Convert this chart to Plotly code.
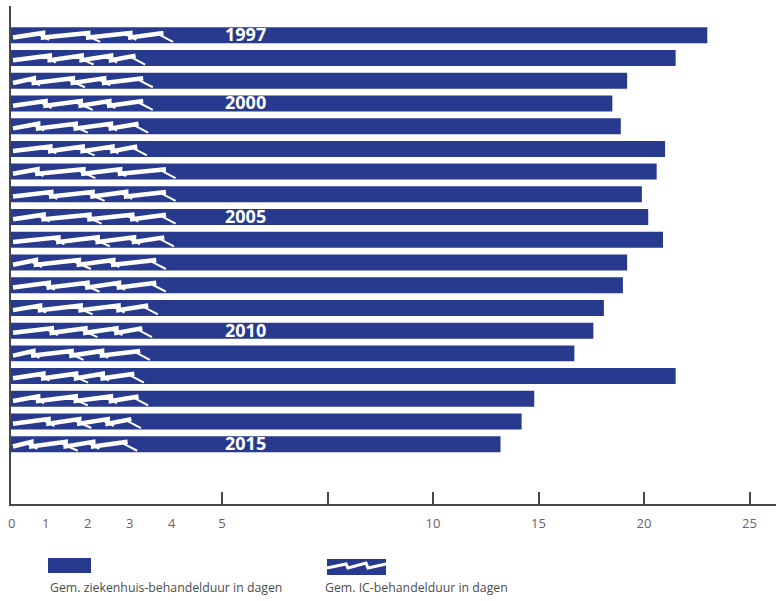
import plotly.graph_objects as go

# ---- data -------------------------------------------------------------
years = list(range(1997, 2016))
ziekenhuis_dagen = [23.0, 21.5, 19.2, 18.5, 18.9, 21.0, 20.6, 19.9, 20.2, 20.9,
                    19.2, 19.0, 18.1, 17.6, 16.7, 21.5, 14.8, 14.2, 13.2]
ic_dagen = [3.84, 3.18, 3.36, 3.36, 3.25, 3.22, 3.90, 3.90, 3.90, 3.86,
            3.67, 3.67, 3.48, 3.34, 3.29, 3.15, 3.25, 3.08, 2.99]
labelled_years = [1997, 2000, 2005, 2010, 2015]
axis_ticks = [5, 7.5, 10, 15, 20, 25]
axis_tick_text = ["5", "", "10", "15", "20", "25"]
ic_ticks = [0, 1, 2, 3, 4]

# ---- styling ----------------------------------------------------------
BLUE = "#283a8e"
AXIS = "#474747"
TICK_FONT = "#6c5e6e"
TEXT = "#4d4d4d"
FONT = "Open Sans"

W, H = 776, 601
M_L, M_R, M_T, M_B = 11, 0, 6, 97
PLOT_W = W - M_L - M_R
PLOT_H = H - M_T - M_B
Y_RANGE = [2017.63, 1995.71]          # reversed: 1997 on top
PX_PER_YEAR = PLOT_H / (Y_RANGE[0] - Y_RANGE[1])


def scale(v):
    """Broken value axis: full scale up to 10 days, half scale beyond."""
    return v if v <= 10 else 10 + (v - 10) / 2.0


X_RANGE = [0, PLOT_W / 42.2]
PX_PER_UNIT = PLOT_W / (X_RANGE[1] - X_RANGE[0])


def paper(xpx, ypx):
    return (xpx - M_L) / PLOT_W, (H - M_B - ypx) / PLOT_H


fig = go.Figure()

# hospital stay: solid blue bars
fig.add_trace(go.Bar(
    y=years, x=[scale(v) for v in ziekenhuis_dagen], orientation="h",
    marker=dict(color=BLUE, line=dict(width=0)),
    width=0.704, showlegend=False, hoverinfo="skip",
))

# IC stay: white jagged brush stroke inside each bar
ramp_sets = [
    [0.0, 0.2, 0.5, 0.78, 1.0],
    [0.0, 0.3, 0.56, 0.8, 1.0],
    [0.0, 0.16, 0.46, 0.7, 1.0],
    [0.0, 0.25, 0.52, 0.74, 1.0],
]
band_x, band_y, spike_x, spike_y = [], [], [], []
lo, hi = 2.2 / PX_PER_YEAR, -2.4 / PX_PER_YEAR
spike_drop = 6.5 / PX_PER_YEAR
spike_len = 12 / PX_PER_UNIT
start = 2 / PX_PER_UNIT
for i, (yr, v) in enumerate(zip(years, ic_dagen)):
    ramps = ramp_sets[i % len(ramp_sets)]
    end = scale(v) - spike_len * 0.8
    length = end - start
    for k in range(len(ramps) - 1):
        a = start + length * ramps[k]
        b = start + length * ramps[k + 1]
        band_x += [a, b]
        band_y += [yr + lo, yr + hi]
        last = k == len(ramps) - 2
        tip = scale(v) if last else b + spike_len * (0.5 if k % 2 == 0 else 1.0)
        spike_x += [b - spike_len * 0.35, tip, None]
        spike_y += [yr + hi * 0.3, yr + spike_drop * (1.0 if (last or k % 2) else 0.7), None]
    band_x.append(None)
    band_y.append(None)

fig.add_trace(go.Scatter(
    x=band_x, y=band_y, mode="lines",
    line=dict(color="white", width=4.5), showlegend=False, hoverinfo="skip",
))
fig.add_trace(go.Scatter(
    x=spike_x, y=spike_y, mode="lines",
    line=dict(color="white", width=2), showlegend=False, hoverinfo="skip",
))

annotations = []
# year labels inside the bars
LABEL_X = (245 - M_L) / PX_PER_UNIT
for yr in labelled_years:
    annotations.append(dict(
        x=LABEL_X, y=yr, xref="x", yref="y", text=str(yr), showarrow=False,
        font=dict(family=FONT, size=18, color="white", weight="bold"),
        xanchor="center", yanchor="middle", yshift=1,
    ))

# 0-4 labels of the IC part of the scale
lab_y = paper(0, 523)[1]
for t in ic_ticks:
    annotations.append(dict(
        x=t, y=lab_y, xref="x", yref="paper", text=str(t), showarrow=False,
        font=dict(family=FONT, size=13, color=TICK_FONT),
        xanchor="center", yanchor="middle", xshift=0 if t == 0 else -8,
    ))

# legend
shapes = []
x0, y0 = paper(48, 573)
x1, y1 = paper(91, 558)
shapes.append(dict(type="rect", xref="paper", yref="paper", x0=x0, x1=x1, y0=y0, y1=y1,
                   fillcolor=BLUE, line=dict(width=0)))
x0, y0 = paper(327, 575)
x1, y1 = paper(386, 559)
shapes.append(dict(type="rect", xref="paper", yref="paper", x0=x0, x1=x1, y0=y0, y1=y1,
                   fillcolor=BLUE, line=dict(width=0)))
zig = [(327, 568), (346, 564), (348, 568), (366, 563), (368, 568), (386, 564)]
pts = [paper(px, py) for px, py in zig]
path = "M " + " L ".join(f"{px:.5f},{py:.5f}" for px, py in pts)
shapes.append(dict(type="path", xref="paper", yref="paper", path=path,
                   line=dict(color="white", width=3)))

for xpx, txt in [(48, "Gem. ziekenhuis-behandelduur in dagen"),
                 (323, "Gem. IC-behandelduur in dagen")]:
    px_, py_ = paper(xpx, 588)
    annotations.append(dict(
        x=px_, y=py_, xref="paper", yref="paper", text=txt, showarrow=False,
        font=dict(family=FONT, size=12.3, color=TEXT), xanchor="left", yanchor="middle",
    ))

fig.update_layout(
    width=W, height=H,
    margin=dict(l=M_L, r=M_R, t=M_T, b=M_B),
    paper_bgcolor="white", plot_bgcolor="white",
    bargap=0.296,
    xaxis=dict(
        range=X_RANGE, showgrid=False, zeroline=False,
        showline=True, linecolor=AXIS, linewidth=1.5,
        ticks="inside", ticklen=12, tickwidth=1.5, tickcolor=AXIS,
        tickvals=[scale(v) for v in axis_ticks], ticktext=axis_tick_text,
        tickfont=dict(family=FONT, size=13, color=TICK_FONT),
        ticklabelstandoff=7,
    ),
    yaxis=dict(
        range=Y_RANGE, showgrid=False, zeroline=False,
        showline=True, linecolor=AXIS, linewidth=2,
        showticklabels=False, ticks="",
    ),
    annotations=annotations,
    shapes=shapes,
    showlegend=False,
)

fig.write_html("out.html")
